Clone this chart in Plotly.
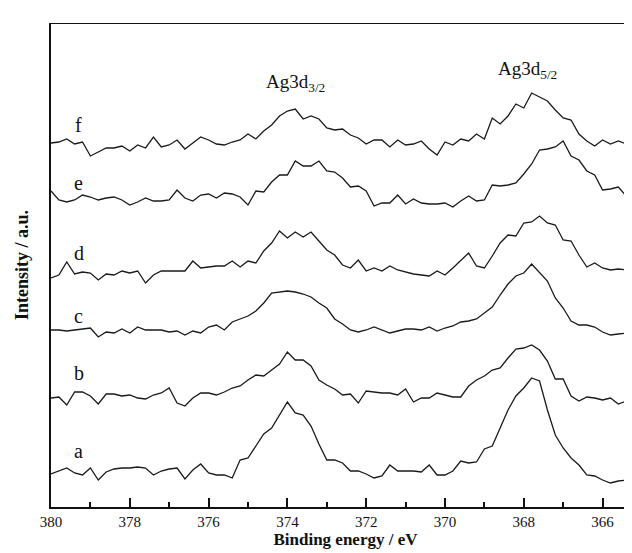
import plotly.graph_objects as go

# Binding energy axis (eV), 0.2 eV step from 380 down to 365
energy = [round(380.0 - 0.2 * i, 1) for i in range(76)]

# Stacked XPS spectra (intensity, a.u.)
spec_a = [34, 37, 40, 35, 33, 40, 28, 36, 39, 40, 40, 41, 40, 33, 37, 39, 40, 29, 38, 44,
          35, 33, 33, 30, 48, 50, 62, 74, 80, 93, 106, 95, 93, 82, 64, 48, 48, 45,
          37, 37, 34, 30, 32, 43, 37, 37, 37, 36, 43, 33, 33, 37, 47, 45, 46, 59, 62, 80,
          98, 112, 120, 130, 127, 98, 73, 60, 50, 43, 33, 32, 28, 25, 27, 28, 34, 40]
spec_b = [110, 111, 103, 116, 116, 112, 104, 114, 114, 112, 113, 110, 109, 113, 115, 120, 105, 102, 110, 115,
          115, 113, 116, 120, 122, 128, 133, 132, 138, 144, 156, 148, 148, 142, 128, 123, 119, 113,
          114, 105, 117, 116, 115, 115, 113, 119, 106, 110, 110, 115, 113, 111, 111, 122, 128, 132, 138, 140,
          150, 159, 160, 163, 158, 147, 129, 129, 112, 107, 111, 110, 108, 110, 104, 107, 107, 102]
spec_c = [178, 178, 177, 178, 179, 180, 171, 176, 175, 179, 175, 181, 178, 178, 178, 176, 177, 173, 177, 175,
          181, 183, 178, 186, 189, 192, 197, 205, 215, 216, 217, 216, 214, 211, 205, 200, 189, 184,
          178, 176, 178, 181, 178, 175, 177, 179, 179, 178, 181, 177, 180, 182, 186, 187, 189, 195, 201, 213,
          224, 232, 235, 244, 235, 227, 210, 200, 187, 183, 183, 181, 176, 173, 174, 175, 174, 175]
spec_d = [230, 233, 246, 234, 236, 235, 228, 234, 233, 237, 235, 237, 225, 233, 237, 237, 237, 237, 247, 240,
          241, 242, 242, 247, 241, 247, 245, 257, 265, 277, 270, 276, 271, 276, 267, 258, 253, 243,
          240, 248, 237, 240, 237, 242, 238, 236, 234, 233, 232, 237, 233, 240, 248, 255, 242, 240, 252, 265,
          273, 272, 285, 286, 292, 285, 283, 268, 267, 253, 241, 245, 240, 238, 239, 238, 241, 240]
spec_e = [317, 308, 306, 308, 313, 311, 308, 310, 311, 308, 303, 306, 310, 307, 307, 308, 318, 310, 307, 313,
          314, 310, 315, 314, 311, 303, 317, 316, 326, 333, 333, 347, 342, 342, 347, 337, 336, 330,
          321, 322, 317, 302, 305, 305, 313, 304, 309, 305, 304, 304, 305, 301, 307, 312, 307, 308, 323, 322,
          323, 325, 334, 344, 358, 359, 361, 367, 352, 348, 337, 333, 318, 319, 321, 312, 309, 311]
spec_f = [365, 366, 369, 364, 366, 352, 356, 360, 360, 362, 357, 363, 360, 371, 361, 363, 368, 359, 365, 371,
          368, 364, 363, 366, 368, 374, 369, 377, 383, 392, 397, 399, 389, 392, 389, 380, 378, 379,
          373, 370, 364, 368, 368, 361, 368, 363, 364, 367, 359, 353, 366, 363, 369, 367, 374, 369, 390, 384,
          392, 404, 400, 415, 411, 407, 398, 390, 388, 374, 367, 362, 368, 364, 367, 364, 367, 361]

series_names = ["a", "b", "c", "d", "e", "f"]
series_values = [spec_a, spec_b, spec_c, spec_d, spec_e, spec_f]

# Curve letter labels (energy, intensity)
label_energy = 379.3
label_intensity = [57, 135, 192, 255, 325, 383]

peak_labels = ["Ag3d<sub>3/2</sub>", "Ag3d<sub>5/2</sub>"]
peak_energy = [373.8, 367.9]
peak_intensity = [425, 438]

SERIF = "Liberation Serif, Times New Roman, serif"
INK = "#111111"
X_RANGE = [380, 365.05]
Y_RANGE = [1, 485]

fig = go.Figure()
for name, vals in zip(series_names, series_values):
    fig.add_trace(go.Scatter(x=energy, y=vals, mode="lines", name=name,
                             line=dict(color="#1a1a1a", width=1.3),
                             showlegend=False, hoverinfo="skip"))

# top frame line (mirrored x axis, no ticks)
fig.add_trace(go.Scatter(x=X_RANGE, y=[Y_RANGE[1], Y_RANGE[1]], mode="lines",
                         line=dict(color=INK, width=2.2), showlegend=False,
                         hoverinfo="skip", cliponaxis=False))

annotations = []
for name, yi in zip(series_names, label_intensity):
    annotations.append(dict(x=label_energy, y=yi, xref="x", yref="y", text=name,
                            showarrow=False, font=dict(family=SERIF, size=20, color=INK)))
for txt, xe, yi in zip(peak_labels, peak_energy, peak_intensity):
    annotations.append(dict(x=xe, y=yi, xref="x", yref="y", text=txt,
                            showarrow=False, font=dict(family=SERIF, size=19, color=INK)))

fig.update_layout(
    width=632, height=553,
    margin=dict(l=43, r=0, t=15, b=54),
    paper_bgcolor="white", plot_bgcolor="white",
    font=dict(family=SERIF, color=INK),
    annotations=annotations,
    xaxis=dict(
        range=X_RANGE, showgrid=False, zeroline=False,
        showline=True, linecolor=INK, linewidth=2,
        ticks="inside", ticklen=9, tickwidth=1.6, tickcolor=INK,
        tick0=380, dtick=2,
        minor=dict(ticks="inside", ticklen=5, tickwidth=1.6, tickcolor=INK, dtick=1),
        tickfont=dict(family=SERIF, size=15, color=INK),
        title=dict(text="<b>Binding energy / eV</b>", standoff=4,
                   font=dict(family=SERIF, size=17, color=INK)),
    ),
    yaxis=dict(
        range=Y_RANGE, showgrid=False, zeroline=False,
        showline=True, linecolor=INK, linewidth=2, mirror=False,
        ticks="", showticklabels=False,
        title=dict(text="<b>Intensity / a.u.</b>", standoff=16,
                   font=dict(family=SERIF, size=18, color=INK)),
    ),
)

fig.write_html("out.html")
